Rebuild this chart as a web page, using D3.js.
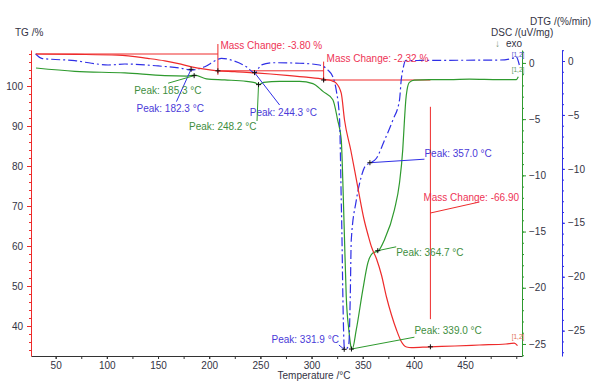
<!DOCTYPE html>
<html><head><meta charset="utf-8">
<script src="https://cdn.jsdelivr.net/npm/d3@7"></script>
<style>
html,body{margin:0;padding:0;background:#fff;}
svg{display:block;font-family:"Liberation Sans",Arial,sans-serif;}
</style></head>
<body><svg id="c" width="600" height="385"></svg>
<script>
// ---------- data ----------
const tgTemp  = [30.5, 70, 110.8, 140, 156.6, 170, 182.7, 195.7, 208.3, 225, 242.5, 260, 278.6, 295, 311.8, 319.6, 324.1, 329.0, 332.2, 338.3, 345.1, 351.4, 355.2, 358.6, 363.5, 368.3, 373.2, 378.1, 383.0, 387.9, 392.8, 397.6, 415.2, 440, 463.9, 490.0, 498.0, 501.2];
const tgValue = [108.0, 107.9, 107.7, 106.9, 106.3, 105.6, 104.8, 104.2, 103.8, 103.6, 103.3, 103.0, 102.6, 102.2, 101.7, 101.3, 100.7, 98.2, 91.5, 84.0, 74.8, 66.5, 62.75, 59.75, 56.75, 52.75, 47.25, 42.75, 39.0, 36.0, 34.75, 34.6, 34.8, 35.0, 35.25, 35.5, 35.7, 35.1];

const dscTemp  = [30.8, 68.8, 117.6, 156.6, 177.8, 185.9, 197.3, 215.2, 236.3, 244.4, 248.6, 253.2, 268.8, 288.3, 301.3, 311.1, 320.8, 325.4, 329.0, 330.6, 332.2, 333.9, 336.4, 338.8, 339.8, 343.7, 350.1, 355.0, 359.9, 365.4, 371.3, 381.0, 385.9, 389.1, 390.8, 392.1, 393.3, 395.6, 400.5, 415.2, 434.7, 454.2, 483.5, 499.8, 502.0];
const dscValue = [-0.45, -0.75, -0.89, -1.13, -1.17, -1.09, -1.42, -1.51, -1.64, -1.75, -1.93, -1.73, -1.64, -1.64, -1.84, -2.53, -3.27, -5.04, -6.82, -10.68, -15.7, -20.77, -23.73, -25.36, -25.45, -23.73, -20.17, -17.79, -16.9, -16.7, -15.72, -13.05, -10.68, -7.71, -5.04, -3.27, -2.4, -1.73, -1.53, -1.49, -1.49, -1.44, -1.49, -1.49, -1.22];

const dtgTemp  = [30.5, 36.3, 46.1, 68.8, 85.1, 101.3, 117.6, 150.1, 172.9, 182.7, 195.7, 207.1, 212.0, 223.3, 236.3, 244.4, 250.9, 262.3, 288.3, 307.8, 316.0, 320.8, 324.1, 327.4, 328.3, 329.0, 329.6, 330.6, 331.6, 332.2, 334.2, 336.4, 337.8, 338.8, 343.7, 348.5, 352.7, 357.3, 363.2, 371.3, 379.4, 385.9, 387.6, 389.8, 391.8, 405.5, 483.5, 496.5, 499.8, 503.0];
const dtgValue = [0.65, 0.25, 0.16, 0.03, -0.21, -0.37, -0.28, -0.46, -0.68, -0.84, -0.53, 0.09, 0.25, 0.03, -0.53, -1.09, -0.37, -0.16, -0.21, -0.37, -0.84, -1.46, -2.7, -5.48, -9.2, -12.92, -15.71, -21.9, -25.93, -26.7, -26.67, -26.24, -21.9, -16.6, -12.92, -10.75, -9.71, -9.45, -9.04, -7.34, -5.48, -3.62, -1.77, -0.53, 0.03, 0.05, 0.09, 0.25, 0.4, -0.37];

const xTicks   = [50, 100, 150, 200, 250, 300, 350, 400, 450];
const tgTicks  = [40, 50, 60, 70, 80, 90, 100];
const dscTicks = [-25, -20, -15, -10, -5, 0];
const dtgTicks = [-25, -20, -15, -10, -5, 0];

const peakTemps  = [182.3, 185.3, 244.3, 248.2, 331.9, 339.0, 357.0, 364.7];
const peakSeries = ["DTG", "DSC", "DTG", "DSC", "DTG", "DSC", "DTG", "DSC"];
const peakValues = [-0.77, -1.13, -1.08, -1.93, -26.73, -25.45, -9.43, -16.7];

const massChanges = ["-3.80 %", "-2.32 %", "-66.90"];

// ---------- layout (data units) ----------
const peakLabelPos = [
  {t:129.0, v:93.5, lt:168.0, lv:96.1, anchor:"start"},
  {t:126.7, v:97.9, lt:159.9, lv:100.7, anchor:"start"},
  {t:239.6, v:92.6, lt:268.8, lv:95.25, anchor:"start"},
  {t:180.3, v:88.9, lt:246.7, lv:91.25, anchor:"start"},
  {t:326.7, v:35.75, lt:326.7, lv:35.25, anchor:"end"},
  {t:400.5, v:37.9, lt:400.5, lv:37.2, anchor:"start"},
  {t:410.3, v:82.25, lt:410.3, lv:81.7, anchor:"start"},
  {t:382.7, v:57.5, lt:382.7, lv:59.8, anchor:"start"}
];

const RED = "#ee2b2b", GREEN = "#2e9a2e", BLUE = "#2f2fe6";
const RED_T = "#ee3355", GREEN_T = "#3e8e3e", BLUE_T = "#4a3ad8", AX_T = "#333344";

const svg = d3.select("#c");
const x    = d3.scaleLinear().domain([25.9, 505.6]).range([31, 522]);
const yTG  = d3.scaleLinear().domain([32.5, 109]).range([356, 50]);
const yDSC = d3.scaleLinear().domain([-26.07, 1.15]).range([356, 50]);
const yDTG = d3.scaleLinear().domain([-27.35, 1.02]).range([356, 50]);
const yOf = {TG: yTG, DSC: yDSC, DTG: yDTG};
const colOf = {DSC: GREEN, DTG: BLUE};
const colTOf = {DSC: GREEN_T, DTG: BLUE_T};

function styleAxis(g, lineCol) {
  g.select(".domain").attr("stroke", lineCol);
  g.selectAll(".tick line").attr("stroke", lineCol);
  g.selectAll(".tick text").attr("fill", AX_T).attr("font-size", 10).attr("font-family", "Liberation Sans, Arial, sans-serif");
}

function minor(g, axisFn, vals, size) {
  g.call(axisFn.tickValues(vals).tickSize(size).tickFormat(""));
  g.select(".domain").remove();
}

// bottom axis
const gxMinor = svg.append("g").attr("transform", "translate(0,356)");
minor(gxMinor, d3.axisBottom(x), d3.range(50, 501, 25), 3);
gxMinor.selectAll("line").attr("stroke", "#333");
const gx = svg.append("g").attr("transform", "translate(0,356)")
  .call(d3.axisBottom(x).tickValues(xTicks).tickSize(3).tickPadding(3).tickSizeOuter(0));
styleAxis(gx, "#333");

// left TG axis
const gyMinor = svg.append("g").attr("transform", "translate(31,0)");
minor(gyMinor, d3.axisLeft(yTG), d3.range(34, 109, 2), 2);
gyMinor.selectAll("line").attr("stroke", RED);
const gy = svg.append("g").attr("transform", "translate(31,0)")
  .call(d3.axisLeft(yTG).tickValues(tgTicks).tickSize(4).tickPadding(4).tickSizeOuter(0));
styleAxis(gy, RED);

// right DSC axis
const gdMinor = svg.append("g").attr("transform", "translate(522,0)");
minor(gdMinor, d3.axisRight(yDSC), d3.range(-26, 2, 1), 2);
gdMinor.selectAll("line").attr("stroke", GREEN);
const gd = svg.append("g").attr("transform", "translate(522,0)")
  .call(d3.axisRight(yDSC).tickValues(dscTicks).tickSize(4).tickPadding(3).tickSizeOuter(0));
styleAxis(gd, GREEN);

// right DTG axis
const gtMinor = svg.append("g").attr("transform", "translate(562,0)");
minor(gtMinor, d3.axisRight(yDTG), d3.range(-27, 2, 1), 2);
gtMinor.selectAll("line").attr("stroke", BLUE);
const gt = svg.append("g").attr("transform", "translate(562,0)")
  .call(d3.axisRight(yDTG).tickValues(dtgTicks).tickSize(3).tickPadding(3).tickSizeOuter(0));
styleAxis(gt, BLUE);

// titles
function txt(xp, yp, s, col, size, anchor) {
  return svg.append("text").attr("x", xp).attr("y", yp).text(s)
    .attr("fill", col).attr("font-size", size || 10).attr("text-anchor", anchor || "start");
}
txt(15, 36, "TG /%", AX_T);
txt(530, 24.5, "DTG /(%/min)", AX_T);
txt(491, 36, "DSC /(uV/mg)", AX_T);
txt(495, 47, "↓", "#7a9a7a");
txt(506, 47, "exo", AX_T);
txt(314, 379, "Temperature /°C", AX_T, 10, "middle");

// curves
const lineGen = (ys) => d3.line().x(d => x(d[0])).y(d => ys(d[1])).curve(d3.curveMonotoneX);
const tgData  = tgTemp.map((t, i) => [t, tgValue[i]]);
const dscData = dscTemp.map((t, i) => [t, dscValue[i]]);
const dtgData = dtgTemp.map((t, i) => [t, dtgValue[i]]);

// mass change brackets (TG units)
const br = svg.append("g").attr("stroke", RED).attr("stroke-width", 1).attr("fill", "none");
function seg(t1, v1, t2, v2) {
  br.append("line").attr("x1", x(t1)).attr("y1", yTG(v1)).attr("x2", x(t2)).attr("y2", yTG(v2));
}
seg(30.5, 108.0, 208.5, 108.0);
seg(208.5, 110.5, 208.5, 102.8);
seg(208.5, 103.8, 311.8, 103.8);
seg(311.8, 106.1, 311.8, 101.1);
seg(311.8, 101.5, 416.1, 101.5);
seg(416.1, 94.8, 416.1, 41.7);
seg(416.1, 68.25, 464.0, 71.0);

svg.append("path").datum(dscData).attr("fill", "none").attr("stroke", GREEN).attr("stroke-width", 1.2).attr("d", lineGen(yDSC));
svg.append("path").datum(dtgData).attr("fill", "none").attr("stroke", BLUE).attr("stroke-width", 1.2)
  .attr("stroke-dasharray", "9,3,2,3").attr("d", lineGen(yDTG));
svg.append("path").datum(tgData).attr("fill", "none").attr("stroke", RED).attr("stroke-width", 1.2).attr("d", lineGen(yTG));

// cross markers
function cross(px, py) {
  svg.append("path").attr("d", `M${px-2.5},${py}H${px+2.5}M${px},${py-2.5}V${py+2.5}`)
    .attr("stroke", "#111").attr("stroke-width", 1);
}
cross(x(208.5), yTG(103.8));
cross(x(311.8), yTG(101.5));
cross(x(416.1), yTG(34.8));

// mass change labels
txt(x(211), yTG(109.25), "Mass Change: " + massChanges[0], RED_T);
txt(x(314.7), yTG(106.1), "Mass Change: " + massChanges[1], RED_T);
txt(x(409.3), yTG(71.25), "Mass Change: " + massChanges[2], RED_T);

// peaks
peakTemps.forEach((t, i) => {
  const s = peakSeries[i];
  const px = x(t), py = yOf[s](peakValues[i]);
  const L = peakLabelPos[i];
  svg.append("line").attr("x1", x(L.lt)).attr("y1", yTG(L.lv)).attr("x2", px).attr("y2", py)
    .attr("stroke", colOf[s]).attr("stroke-width", 1);
  cross(px, py);
  txt(x(L.t), yTG(L.v), "Peak: " + t.toFixed(1) + " °C", colTOf[s], 10, L.anchor);
});

// end-of-segment labels
txt(x(495.5), yDTG(0.4), "[1,2]", "#5050d0", 6.5);
txt(x(495.5), yDSC(-0.82), "[1,2]", "#5a9a5a", 6.5);
txt(x(495.5), yTG(36.7), "[1,2]", "#e07050", 6.5);
</script></body></html>
